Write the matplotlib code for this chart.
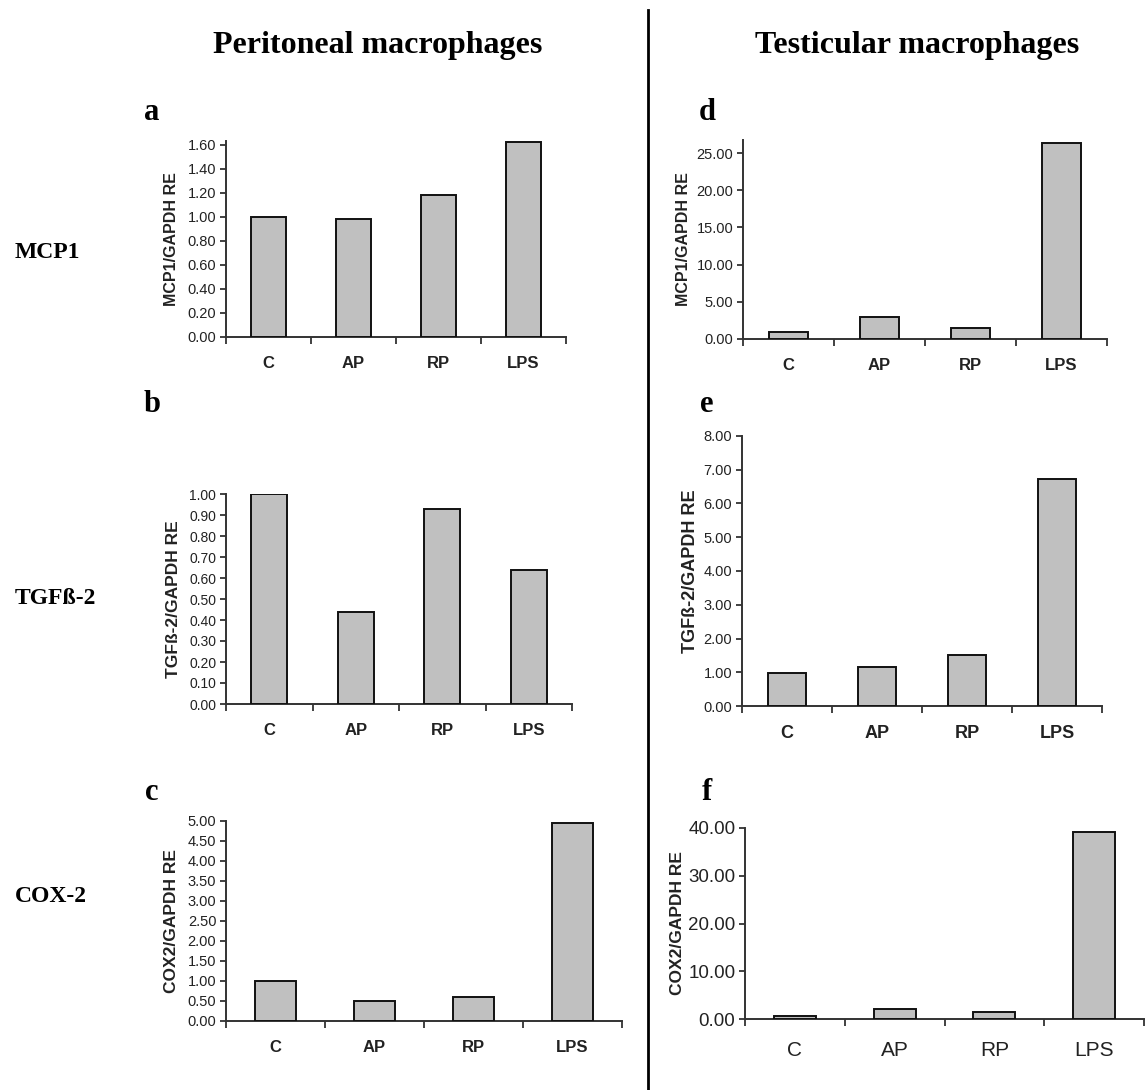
import matplotlib
matplotlib.use("Agg")
import matplotlib.pyplot as plt
import numpy as np

W, H = 1145, 1090

categories = ["C", "AP", "RP", "LPS"]

mcp1_peritoneal = [1.00, 0.98, 1.18, 1.62]
tgfb2_peritoneal = [1.00, 0.44, 0.93, 0.64]
cox2_peritoneal = [1.00, 0.50, 0.60, 4.95]

mcp1_testicular = [1.0, 2.9, 1.5, 26.3]
tgfb2_testicular = [0.98, 1.16, 1.51, 6.73]
cox2_testicular = [0.6, 2.1, 1.5, 39.2]

ylabels = {
    "a": "MCP1/GAPDH RE", "b": "TGFß-2/GAPDH RE", "c": "COX2/GAPDH RE",
    "d": "MCP1/GAPDH RE", "e": "TGFß-2/GAPDH RE", "f": "COX2/GAPDH RE",
}

fig = plt.figure(figsize=(W / 100, H / 100), dpi=100)
fig.patch.set_facecolor("white")

SANS = ["Liberation Sans", "DejaVu Sans"]
NARROW = ["Liberation Sans Narrow", "Liberation Sans", "DejaVu Sans"]
SERIF = ["Liberation Serif", "DejaVu Serif"]
AX_COLOR = "#333333"


def px_axes(l, r, top, bottom):
    return fig.add_axes([l / W, 1 - bottom / H, (r - l) / W, (bottom - top) / H])


def panel(box, values, ymax, ystep, ylabel, tick_fs=10.5, xfs=12, yfs=11.5,
          tick_family=SANS, xlab_family=SANS, xbold=True, ylab_pad=6, xpad=14):
    ax = px_axes(*box)
    x = np.arange(len(values)) + 0.5
    ax.bar(x, values, width=0.42, color="#c0c0c0", edgecolor="#111111",
           linewidth=1.4, zorder=3)
    ax.set_xlim(0, len(values))
    ax.set_ylim(0, ymax)
    ticks = np.arange(0, ymax + 1e-9, ystep)
    ax.set_yticks(ticks)
    ax.set_yticklabels([f"{t:.2f}" for t in ticks], fontsize=tick_fs,
                       family=tick_family, color="#222222")
    ax.set_xticks(x)
    ax.set_xticklabels(categories, fontsize=xfs, family=xlab_family,
                       fontweight="bold" if xbold else "normal", color="#222222")
    ax.set_xticks(np.arange(len(values) + 1), minor=True)
    ax.tick_params(axis="x", which="major", length=0, pad=xpad)
    ax.tick_params(axis="x", which="minor", length=5, width=1.3,
                   color=AX_COLOR, direction="out")
    ax.tick_params(axis="y", length=4, width=1.3, color=AX_COLOR,
                   direction="out", pad=3)
    for s in ["top", "right"]:
        ax.spines[s].set_visible(False)
    for s in ["left", "bottom"]:
        ax.spines[s].set_linewidth(1.4)
        ax.spines[s].set_color(AX_COLOR)
    ax.set_ylabel(ylabel, fontsize=yfs, fontweight="bold", family=SANS,
                  color="#222222", labelpad=ylab_pad)
    ax.set_facecolor("none")
    return ax


panel((226, 566, 141, 337), mcp1_peritoneal, 1.63, 0.2, ylabels["a"], tick_fs=10.5, yfs=11.5)
panel((226, 572, 494, 704), tgfb2_peritoneal, 1.0, 0.1, ylabels["b"], tick_fs=10, yfs=12.5)
panel((226, 622, 821, 1021), cox2_peritoneal, 5.0, 0.5, ylabels["c"], tick_fs=10.5, yfs=12.5)

panel((743, 1107, 140, 339), mcp1_testicular, 26.75, 5, ylabels["d"], tick_fs=10.5,
      yfs=11.5, ylab_pad=4)
panel((742, 1102, 436, 706), tgfb2_testicular, 8.0, 1, ylabels["e"], tick_fs=10.5,
      xfs=13, yfs=13, ylab_pad=3)
panel((745, 1144, 828, 1019), cox2_testicular, 40.0, 10, ylabels["f"], tick_fs=13.5,
      xfs=15, yfs=12.5, tick_family=NARROW, xlab_family=NARROW,
      xbold=False, ylab_pad=2, xpad=16)

# Column titles
fig.text(378 / W, 1 - 45 / H, "Peritoneal macrophages", ha="center", va="center",
         fontsize=23, fontweight="bold", family=SERIF)
fig.text(917 / W, 1 - 45 / H, "Testicular macrophages", ha="center", va="center",
         fontsize=23, fontweight="bold", family=SERIF)

# Panel letters
for letter, (xp, yp) in {"a": (152, 112), "b": (152, 405), "c": (152, 792),
                         "d": (707, 112), "e": (707, 405), "f": (707, 792)}.items():
    fig.text(xp / W, 1 - yp / H, letter, ha="center", va="center",
             fontsize=22, fontweight="bold", family=SERIF)

# Row labels
for lab, yp in [("MCP1", 252), ("TGFß-2", 598), ("COX-2", 897)]:
    fig.text(15 / W, 1 - yp / H, lab, ha="left", va="center",
             fontsize=17, fontweight="bold", family=SERIF)

# Divider
fig.add_artist(plt.Line2D([648 / W, 648 / W], [0, 1 - 10 / H],
                          transform=fig.transFigure, color="black", linewidth=2))

fig.savefig("out.png", dpi=100, facecolor="white")
